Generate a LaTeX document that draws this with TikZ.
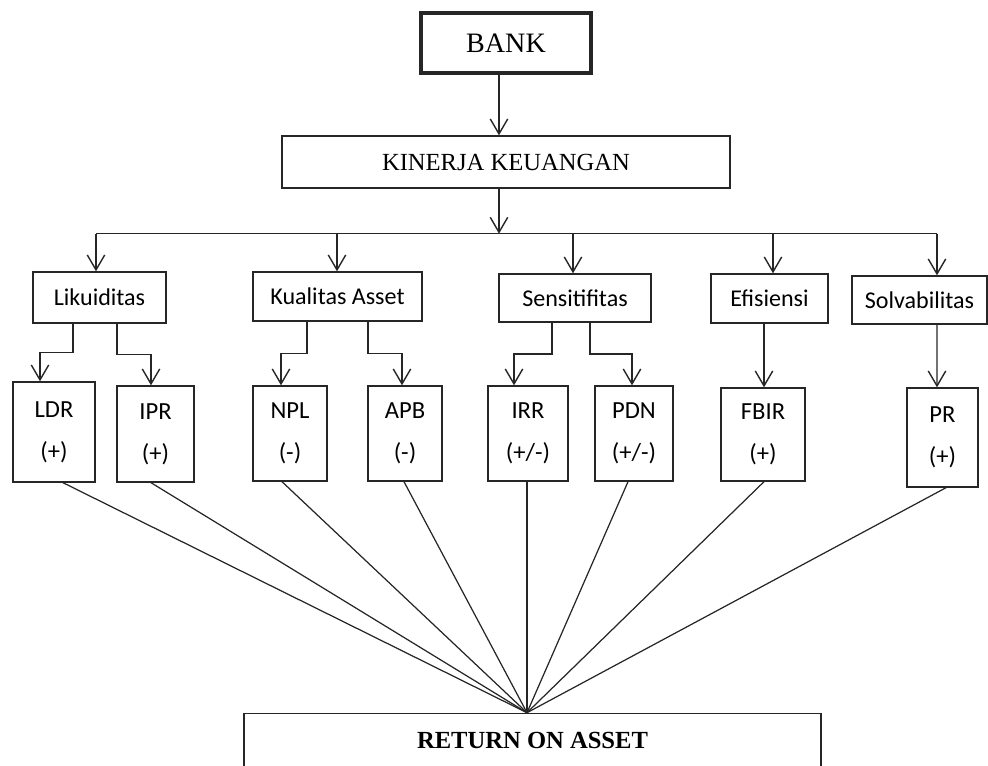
\documentclass[tikz,border=0pt]{standalone}
\usepackage{fontspec}
\setmainfont{Liberation Serif}
\newfontfamily\calibri{Carlito}
\usetikzlibrary{
  arrows.meta,
  calc,
  positioning,
}
\tikzstyle{arrow} = [
  -{Straight Barb[length=3mm,width=3.5mm]},
  line width=0.8pt,
  black!85,
]
\tikzstyle{fan} = [line width=0.7pt, black!85]
\tikzstyle{box} = [draw=black!85, line width=0.8pt, inner sep=0pt]
\tikzstyle{groupbox} = [box, font=\calibri\fontsize{13.7}{16}\selectfont]
\tikzstyle{ratiobox} = [box, align=center, font=\calibri\fontsize{14}{24}\selectfont]

\begin{document}
\begin{tikzpicture}[x=0.02cm, y=-0.02cm]
  \useasboundingbox (0,0) rectangle (988,765);

  \node [box, line width=2.3pt, minimum width=3.4cm, minimum height=1.2cm,
         font=\fontsize{16}{19}\selectfont] (bank) at (506,43) {BANK};
  \node [box, minimum width=8.96cm, minimum height=1.04cm,
         font=\fontsize{14}{17}\selectfont] (kinerja) at (506,162) {KINERJA KEUANGAN};

  % aspek
  \node [groupbox, minimum width=2.66cm, minimum height=1.02cm] (liq) at (99.5,297.5) {Likuiditas};
  \node [groupbox, minimum width=3.38cm, minimum height=0.98cm] (kual) at (337.5,296.5) {Kualitas Asset};
  \node [groupbox, minimum width=3.04cm, minimum height=0.96cm] (sens) at (575,298) {Sensitifitas};
  \node [groupbox, minimum width=2.34cm, minimum height=0.98cm] (efi) at (769.5,298.5) {Efisiensi};
  \node [groupbox, minimum width=2.7cm, minimum height=0.96cm] (solv) at (919.5,300) {Solvabilitas};

  % rasio
  \node [ratiobox, minimum width=1.64cm, minimum height=2cm] (ldr) at (54,432) {LDR\\(+)};
  \node [ratiobox, minimum width=1.54cm, minimum height=1.92cm] (ipr) at (155.5,434) {IPR\\(+)};
  \node [ratiobox, minimum width=1.48cm, minimum height=1.9cm] (npl) at (290,433.5) {NPL\\(-)};
  \node [ratiobox, minimum width=1.48cm, minimum height=1.9cm] (apb) at (405,433.5) {APB\\(-)};
  \node [ratiobox, minimum width=1.6cm, minimum height=1.9cm] (irr) at (528,433.5) {IRR\\(+/-)};
  \node [ratiobox, minimum width=1.56cm, minimum height=1.9cm] (pdn) at (634,433.5) {PDN\\(+/-)};
  \node [ratiobox, minimum width=1.68cm, minimum height=1.86cm] (fbir) at (763,434.5) {FBIR\\(+)};
  \node [ratiobox, minimum width=1.42cm, minimum height=1.98cm] (pr) at (942.5,437.5) {PR\\(+)};

  \node [box, anchor=north, minimum width=11.54cm, text height=0.7cm, text depth=0.8cm,
         font=\bfseries\fontsize{14}{17}\selectfont] (roa) at (532.5,712.7) {RETURN ON ASSET};

  % bank -> kinerja -> aspek
  \draw [arrow] ($(bank.south)+(-7,0)$) -- ($(kinerja.north)+(-7,0)$);
  \coordinate (bus) at ($(kinerja.south)+(-7,45)$);
  \draw [arrow] ($(kinerja.south)+(-7,0)$) -- (bus);
  \foreach \n/\dx in {liq/-3.5, kual/-0.5, sens/-2, efi/3.5, solv/17.5} {
    \coordinate (t\n) at ($(\n.north)+(\dx,0)$);
    \draw [arrow] (bus -| t\n) -- (t\n);
  }
  \draw [fan, line width=0.8pt] (bus -| tliq) -- (bus -| tsolv);

  % aspek -> rasio
  \foreach \a/\da/\b/\db in {liq/-26.5/ldr/-14, liq/17.5/ipr/-4.5,
                             kual/-30.5/npl/-9, kual/30.5/apb/-3,
                             sens/-23/irr/-14, sens/15/pdn/-2} {
    \coordinate (s) at ($(\a.south)+(\da,0)$);
    \coordinate (e) at ($(\b.north)+(\db,0)$);
    \coordinate (m) at ($(s)!.5!(e)$);
    \draw [arrow] (s) -- (s |- m) -| (e);
  }
  \draw [arrow] ($(efi.south)+(-5.5,0)$) -- ($(fbir.north)+(1,0)$);
  \draw [arrow] ($(solv.south)+(17.5,0)$) -- ($(pr.north)+(-5.5,0)$);

  % rasio -> roa
  \coordinate (meet) at ($(roa.north)+(-5.5,0)$);
  \foreach \n/\dx in {ldr/9, ipr/-4.5, npl/-8, apb/-1, irr/-1, pdn/-6, fbir/1, pr/3.5} {
    \draw [fan] ($(\n.south)+(\dx,0)$) -- (meet);
  }
\end{tikzpicture}
\end{document}
